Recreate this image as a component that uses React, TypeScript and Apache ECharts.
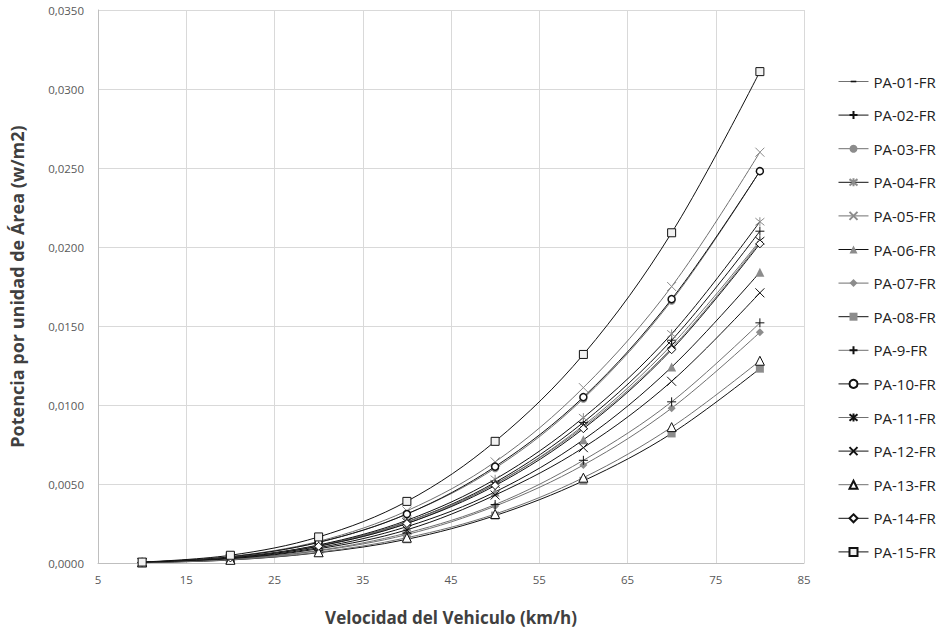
import React, { useEffect, useRef } from "react";
import * as echarts from "echarts";

const speeds = [10, 20, 30, 40, 50, 60, 70, 80];

const pa01 = [0.00004, 0.00032, 0.00107, 0.0025, 0.0050, 0.0086, 0.0136, 0.0203];
const pa02 = [0.00004, 0.00033, 0.00111, 0.0026, 0.0051, 0.0089, 0.0141, 0.0210];
const pa03 = [0.00005, 0.00039, 0.00130, 0.0031, 0.0060, 0.0104, 0.0166, 0.0248];
const pa04 = [0.00004, 0.00034, 0.00114, 0.0027, 0.0053, 0.0092, 0.0145, 0.0216];
const pa05 = [0.00005, 0.00041, 0.00137, 0.0033, 0.0064, 0.0111, 0.0175, 0.0260];
const pa06 = [0.00004, 0.00029, 0.00097, 0.0023, 0.0045, 0.0078, 0.0124, 0.0184];
const pa07 = [0.00003, 0.00023, 0.00077, 0.0018, 0.0036, 0.0062, 0.0098, 0.0146];
const pa08 = [0.00002, 0.00019, 0.00065, 0.0015, 0.0030, 0.0052, 0.0082, 0.0123];
const pa09 = [0.00003, 0.00024, 0.00080, 0.0019, 0.0037, 0.0065, 0.0102, 0.0152];
const pa10 = [0.00005, 0.00039, 0.00131, 0.0031, 0.0061, 0.0105, 0.0167, 0.0248];
const pa11 = [0.00004, 0.00032, 0.00108, 0.0026, 0.0050, 0.0087, 0.0138, 0.0204];
const pa12 = [0.00003, 0.00027, 0.00090, 0.0021, 0.0043, 0.0073, 0.0115, 0.0171];
const pa13 = [0.00003, 0.00020, 0.00068, 0.0016, 0.0031, 0.0054, 0.0086, 0.0128];
const pa14 = [0.00004, 0.00032, 0.00106, 0.0025, 0.0049, 0.0085, 0.0135, 0.0202];
const pa15 = [0.00006, 0.00049, 0.00165, 0.0039, 0.0077, 0.0132, 0.0209, 0.0311];

const seriesNames = [
  "PA-01-FR", "PA-02-FR", "PA-03-FR", "PA-04-FR", "PA-05-FR",
  "PA-06-FR", "PA-07-FR", "PA-08-FR", "PA-9-FR", "PA-10-FR",
  "PA-11-FR", "PA-12-FR", "PA-13-FR", "PA-14-FR", "PA-15-FR",
];
const seriesValues = [pa01, pa02, pa03, pa04, pa05, pa06, pa07, pa08, pa09, pa10, pa11, pa12, pa13, pa14, pa15];

const BLACK = "#111111";
const DGRAY = "#707070";
const MGRAY = "#8c8c8c";

const SYM_DASH = "path://M0,0 M10,10 M1.5,4 L8.5,4 L8.5,6 L1.5,6 Z";
const SYM_PLUS = "path://M5,0 L5,10 M0,5 L10,5";
const SYM_X = "path://M0,0 L10,10 M10,0 L0,10";
const SYM_STAR = "path://M5,0 L5,10 M1,1 L9,9 M9,1 L1,9";

type Sty = { line: string; symbol: string; size: number; fill: string; border: string; bw: number };

const styles: Sty[] = [
  { line: DGRAY, symbol: SYM_DASH, size: 8, fill: BLACK, border: BLACK, bw: 0 },
  { line: BLACK, symbol: SYM_PLUS, size: 9, fill: "none", border: BLACK, bw: 1 },
  { line: DGRAY, symbol: "circle", size: 8, fill: MGRAY, border: MGRAY, bw: 0 },
  { line: BLACK, symbol: SYM_STAR, size: 9, fill: "none", border: MGRAY, bw: 1 },
  { line: DGRAY, symbol: SYM_X, size: 9, fill: "none", border: MGRAY, bw: 1 },
  { line: BLACK, symbol: "triangle", size: 9, fill: MGRAY, border: MGRAY, bw: 0 },
  { line: DGRAY, symbol: "diamond", size: 8, fill: MGRAY, border: MGRAY, bw: 0 },
  { line: BLACK, symbol: "rect", size: 8, fill: MGRAY, border: MGRAY, bw: 0 },
  { line: DGRAY, symbol: SYM_PLUS, size: 9, fill: "none", border: BLACK, bw: 1 },
  { line: BLACK, symbol: "circle", size: 7, fill: "#ffffff", border: BLACK, bw: 1.5 },
  { line: DGRAY, symbol: SYM_STAR, size: 9, fill: "none", border: BLACK, bw: 1 },
  { line: BLACK, symbol: SYM_X, size: 9, fill: "none", border: BLACK, bw: 1 },
  { line: DGRAY, symbol: "triangle", size: 9, fill: "#ffffff", border: BLACK, bw: 1 },
  { line: BLACK, symbol: "diamond", size: 8, fill: "#ffffff", border: BLACK, bw: 1 },
  { line: BLACK, symbol: "rect", size: 8, fill: "#f2f2f2", border: BLACK, bw: 1 },
];

export default function App() {
  const ref = useRef<HTMLDivElement>(null);
  useEffect(() => {
    if (!ref.current) return;
    const chart = echarts.init(ref.current, undefined, { renderer: "svg" });
    const font = "'Open Sans', 'Liberation Sans', sans-serif";
    const series = seriesNames.map((name, i) => {
      const s = styles[i];
      return {
        name,
        type: "line",
        smooth: 0.35,
        data: speeds.map((x, j) => [x, seriesValues[i][j]]),
        symbol: s.symbol,
        symbolSize: s.size,
        showAllSymbol: true,
        lineStyle: { color: s.line, width: 1 },
        itemStyle: { color: s.fill, borderColor: s.border, borderWidth: s.bw, opacity: 1 },
        emphasis: { disabled: true },
        z: 2 + i,
      };
    });
    chart.setOption({
      animation: false,
      backgroundColor: "#ffffff",
      textStyle: { fontFamily: font },
      grid: { left: 98, right: 136, top: 10, bottom: 66, containLabel: false, outerBoundsMode: "none" },
      legend: {
        orient: "vertical",
        left: 838,
        top: 74,
        padding: 0,
        itemGap: 18.6,
        itemWidth: 30,
        itemHeight: 10,
        lineStyle: { width: 1 },
        textStyle: { fontSize: 15, color: "#222", fontFamily: font },
        data: seriesNames,
      },
      xAxis: {
        type: "value",
        min: 5,
        max: 85,
        interval: 10,
        name: "Velocidad del Vehiculo (km/h)",
        nameLocation: "middle",
        nameGap: 46,
        nameTextStyle: { fontSize: 17, fontWeight: "bold", color: "#404040", fontFamily: font },
        axisLine: { show: true, lineStyle: { color: "#bfbfbf" } },
        axisTick: { show: false },
        axisLabel: { fontSize: 11.5, color: "#595959", margin: 10 },
        splitLine: { show: true, lineStyle: { color: "#d9d9d9" } },
      },
      yAxis: {
        type: "value",
        min: 0,
        max: 0.035,
        interval: 0.005,
        name: "Potencia por unidad de Área (w/m2)",
        nameLocation: "middle",
        nameGap: 72,
        nameTextStyle: { fontSize: 18, fontWeight: "bold", color: "#404040", fontFamily: font },
        axisLine: { show: true, lineStyle: { color: "#bfbfbf" } },
        axisTick: { show: false },
        axisLabel: {
          fontSize: 11.5,
          color: "#595959",
          margin: 14,
          formatter: (v: number) => v.toFixed(4).replace(".", ","),
        },
        splitLine: { show: true, lineStyle: { color: "#d9d9d9" } },
      },
      series,
    });
    return () => chart.dispose();
  }, []);
  return <div ref={ref} style={{ width: 940, height: 629, position: "absolute", left: 0, top: 0 }} />;
}
